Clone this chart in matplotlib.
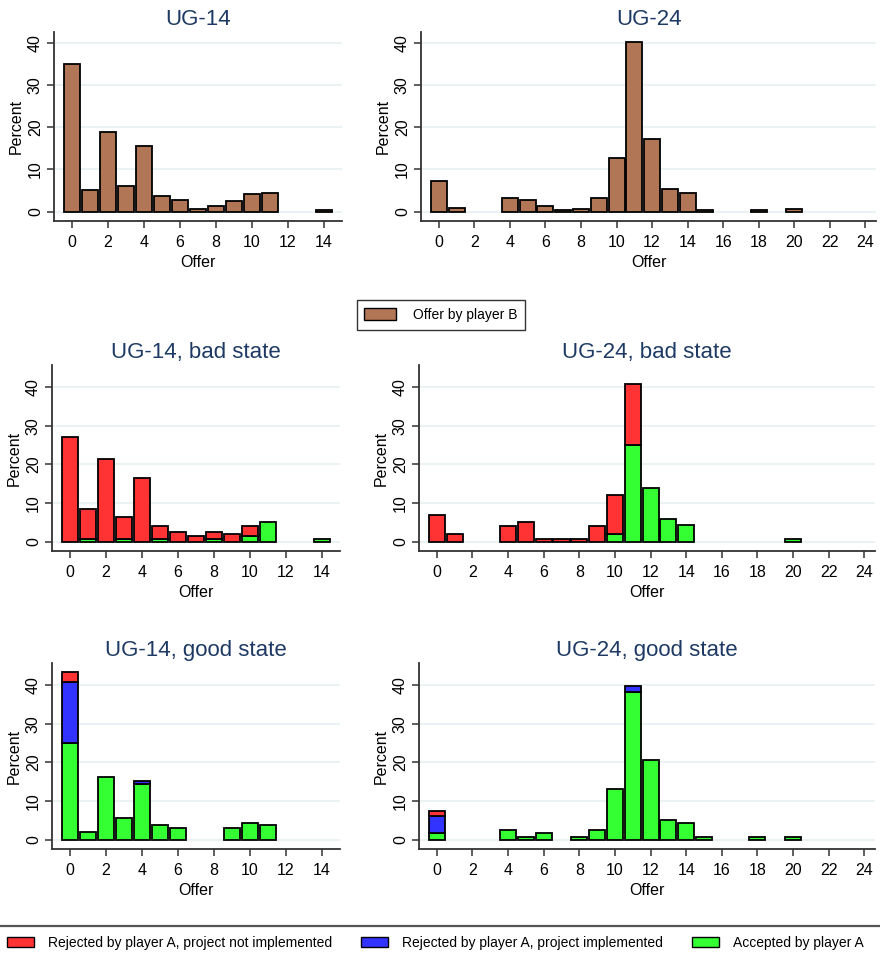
import numpy as np
import matplotlib
matplotlib.use('Agg')
from matplotlib import pyplot as plt
from matplotlib.patches import Patch

plt.rcParams['font.family'] = ['Liberation Sans', 'DejaVu Sans']

offers14 = list(range(15))
offers24 = list(range(25))

# percent of offers by player B
ug14_all = [35.0, 5.2, 18.9, 6.0, 15.6, 3.8, 2.8, 0.7, 1.3, 2.6, 4.2, 4.5, 0, 0, 0.4]
ug24_all = [7.3, 0.9, 0, 0, 3.3, 2.8, 1.4, 0.5, 0.7, 3.3, 12.6, 40.2, 17.3, 5.4, 4.5,
            0.5, 0, 0, 0.5, 0, 0.7, 0, 0, 0, 0]

# bad state: accepted / rejected-implemented / rejected-not-implemented
ug14_bad_acc = [0, 0.8, 0, 0.8, 0, 0.8, 0, 0, 0.8, 0, 1.4, 5.0, 0, 0, 0.8]
ug14_bad_impl = [0] * 15
ug14_bad_rej = [27.1, 7.6, 21.3, 5.7, 16.5, 3.2, 2.6, 1.4, 1.8, 2.1, 2.6, 0, 0, 0, 0]

ug24_bad_acc = [0, 0, 0, 0, 0, 0, 0, 0, 0, 0, 2.1, 25.1, 13.9, 5.8, 4.4,
                0, 0, 0, 0, 0, 0.7, 0, 0, 0, 0]
ug24_bad_impl = [0] * 25
ug24_bad_rej = [7.0, 2.1, 0, 0, 4.0, 5.0, 0.7, 0.7, 0.7, 4.0, 10.0, 15.7, 0, 0, 0,
                0, 0, 0, 0, 0, 0, 0, 0, 0, 0]

# good state
ug14_good_acc = [25.1, 1.9, 16.3, 5.6, 14.3, 3.8, 3.0, 0, 0, 3.0, 4.3, 3.8, 0, 0, 0]
ug14_good_impl = [15.6, 0, 0, 0, 0.8, 0, 0, 0, 0, 0, 0, 0, 0, 0, 0]
ug14_good_rej = [2.6, 0, 0, 0, 0, 0, 0, 0, 0, 0, 0, 0, 0, 0, 0]

ug24_good_acc = [1.8, 0, 0, 0, 2.5, 0.7, 1.8, 0, 0.7, 2.5, 13.2, 38.2, 20.7, 5.1, 4.4,
                 0.7, 0, 0, 0.7, 0, 0.7, 0, 0, 0, 0]
ug24_good_impl = [4.4, 0, 0, 0, 0, 0, 0, 0, 0, 0, 0, 1.5, 0, 0, 0,
                  0, 0, 0, 0, 0, 0, 0, 0, 0, 0]
ug24_good_rej = [1.3] + [0] * 24

BROWN = '#b07656'
RED = '#ff3333'
BLUE = '#3333ff'
GREEN = '#33ff33'
TITLE_C = '#1e3a64'
GRID_C = '#e8f0f2'
SPINE_C = '#333333'

W, H = 880, 959
fig = plt.figure(figsize=(W / 100, H / 100), dpi=100)


def make_ax(left, right, top, bottom):
    return fig.add_axes([left / W, 1 - bottom / H, (right - left) / W, (bottom - top) / H])


def style(ax, title, xmax, xticks, ylim):
    ax.set_xlim(-1, xmax)
    ax.set_ylim(*ylim)
    ax.set_xticks(xticks)
    ax.set_yticks([0, 10, 20, 30, 40])
    ax.tick_params(axis='y', labelrotation=90, labelsize=11.5, length=5, width=1.1,
                   color=SPINE_C, pad=3)
    ax.tick_params(axis='x', labelsize=11.5, length=5, width=1.1, color=SPINE_C, pad=5)
    for lab in ax.get_yticklabels():
        lab.set_va('center')
    ax.spines['top'].set_visible(False)
    ax.spines['right'].set_visible(False)
    for s in ('left', 'bottom'):
        ax.spines[s].set_color(SPINE_C)
        ax.spines[s].set_linewidth(1.3)
    ax.yaxis.grid(True, color=GRID_C, linewidth=1.2)
    ax.set_axisbelow(True)
    ax.set_xlabel('Offer', fontsize=11.5, labelpad=4)
    ax.set_ylabel('Percent', fontsize=11.5, labelpad=3)
    ax.set_title(title, fontsize=16, color=TITLE_C, pad=5)


def bars(ax, x, vals, bottom, color):
    x = np.asarray(x)
    v = np.asarray(vals, dtype=float)
    b = np.asarray(bottom, dtype=float)
    m = v > 0
    ax.bar(x[m], v[m], bottom=b[m], width=0.9, color=color, edgecolor='black',
           linewidth=1.3, zorder=3)


def stacked(ax, x, acc, impl, rej):
    acc = np.asarray(acc, dtype=float)
    impl = np.asarray(impl, dtype=float)
    bars(ax, x, acc, np.zeros(len(x)), GREEN)
    bars(ax, x, impl, acc, BLUE)
    bars(ax, x, rej, acc + impl, RED)


# top row
ax = make_ax(54, 342, 32, 221)
bars(ax, offers14, ug14_all, np.zeros(15), BROWN)
style(ax, 'UG-14', 15, range(0, 15, 2), (-2.2, 42.5))

ax = make_ax(421, 876, 32, 221)
bars(ax, offers24, ug24_all, np.zeros(25), BROWN)
style(ax, 'UG-24', 24.6, range(0, 25, 2), (-2.2, 42.5))

# bad state
ax = make_ax(52, 340, 365, 551)
stacked(ax, offers14, ug14_bad_acc, ug14_bad_impl, ug14_bad_rej)
style(ax, 'UG-14, bad state', 15, range(0, 15, 2), (-2.4, 45.7))

ax = make_ax(419, 875, 365, 551)
stacked(ax, offers24, ug24_bad_acc, ug24_bad_impl, ug24_bad_rej)
style(ax, 'UG-24, bad state', 24.6, range(0, 25, 2), (-2.4, 45.7))

# good state
ax = make_ax(52, 340, 663, 849)
stacked(ax, offers14, ug14_good_acc, ug14_good_impl, ug14_good_rej)
style(ax, 'UG-14, good state', 15, range(0, 15, 2), (-2.4, 45.7))

ax = make_ax(419, 875, 663, 849)
stacked(ax, offers24, ug24_good_acc, ug24_good_impl, ug24_good_rej)
style(ax, 'UG-24, good state', 24.6, range(0, 25, 2), (-2.4, 45.7))

# middle legend
leg = fig.legend(handles=[Patch(facecolor=BROWN, edgecolor='black', linewidth=1.0,
                                label='Offer by player B')],
                 loc='center', bbox_to_anchor=(441 / W, 1 - 315 / H), frameon=True,
                 fancybox=False, edgecolor='black', fontsize=10, handlelength=2.3,
                 handleheight=0.9, handletextpad=1.2, borderpad=0.55)
leg.get_frame().set_linewidth(1.0)

# bottom legend
handles = [Patch(facecolor=RED, edgecolor='black', linewidth=1.0,
                 label='Rejected by player A, project not implemented'),
           Patch(facecolor=BLUE, edgecolor='black', linewidth=1.0,
                 label='Rejected by player A, project implemented'),
           Patch(facecolor=GREEN, edgecolor='black', linewidth=1.0,
                 label='Accepted by player A')]
fig.legend(handles=handles, loc='center left', ncol=3,
           bbox_to_anchor=(7 / W, 1 - 943 / H), frameon=False, fontsize=10,
           borderpad=0, borderaxespad=0, handlelength=1.95, handleheight=0.72,
           handletextpad=1.0, columnspacing=2.1)
fig.add_artist(plt.Line2D([0, 1], [1 - 926 / H, 1 - 926 / H], color='#555555',
                          linewidth=1.6, transform=fig.transFigure))

fig.savefig('out.png', dpi=100)
